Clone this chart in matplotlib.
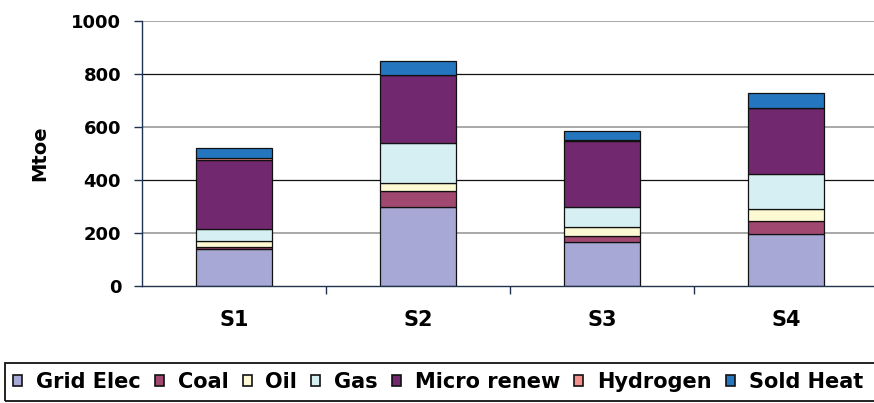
import numpy as np
import matplotlib
matplotlib.use("Agg")
import matplotlib.pyplot as plt
from matplotlib.patches import Rectangle

plt.rcParams['font.family'] = ['DejaVu Sans']

# -----------------------------
# Data (Mtoe)
# -----------------------------
scenarios = ["S1", "S2", "S3", "S4"]
grid_elec = [138, 298, 167, 197]
coal = [8, 60, 23, 47]
oil = [23, 31, 31, 45]
gas = [45, 151, 75, 131]
micro_renew = [259, 253, 252, 249]
hydrogen = [8, 1, 1, 1]
sold_heat = [40, 53, 33, 57]

series_names = ["Grid Elec", "Coal", "Oil", "Gas", "Micro renew", "Hydrogen", "Sold Heat"]
series_vals = [grid_elec, coal, oil, gas, micro_renew, hydrogen, sold_heat]
series_cols = ["#A7A8D5", "#A04870", "#FDF9D2", "#D6EFF2", "#72286E", "#F4908A", "#2476BF"]

y_ticks = [0, 200, 400, 600, 800, 1000]

# -----------------------------
# Plot
# -----------------------------
fig = plt.figure(figsize=(8.74, 4.03), dpi=100)
W, H = 874, 403
ax = fig.add_axes([142 / W, 1 - 286 / H, 736 / W, 265.5 / H])

x = np.arange(len(scenarios))
bottom = np.zeros(len(scenarios))
handles = []
for name, vals, col in zip(series_names, series_vals, series_cols):
    vals = np.array(vals, dtype=float)
    b = ax.bar(x, vals, width=0.41, bottom=bottom, color=col,
               edgecolor="#111111", linewidth=0.9, label=name, zorder=3)
    handles.append(b)
    bottom += vals

ax.set_xlim(-0.5, len(scenarios) - 0.5)
ax.set_ylim(0, 1000)
ax.set_yticks(y_ticks)
ax.set_xticks(x)
ax.set_xticklabels(scenarios, fontsize=15, fontweight="bold")
ax.set_xticks(np.arange(0.5, len(scenarios) - 0.5, 1), minor=True)
ax.tick_params(axis="x", which="major", length=0, pad=17)
ax.tick_params(axis="x", which="minor", length=6, width=1, color="#1F3350")
ax.tick_params(axis="y", length=6, width=1, color="#1F3350", labelsize=13, pad=9)
for lab in ax.get_yticklabels():
    lab.set_fontweight("bold")

# horizontal gridlines (alternating grey / black as in the original)
for i, yv in enumerate(y_ticks[1:]):
    ax.axhline(yv, color="#999999" if i % 2 == 0 else "#111111",
               linewidth=1.2 if i % 2 == 0 else 0.9, zorder=1)

for s in ["top", "right"]:
    ax.spines[s].set_visible(False)
for s in ["left", "bottom"]:
    ax.spines[s].set_color("#1F3350")
    ax.spines[s].set_linewidth(1.0)
    ax.spines[s].set_zorder(4)

ax.set_ylabel("Mtoe", fontsize=14, fontweight="bold", labelpad=16)

# legend with a frame running off the right edge
fig.patches.append(Rectangle((5 / W, 1 - 401 / H), 900 / W, 38 / H,
                             transform=fig.transFigure, fill=False,
                             edgecolor="#111111", linewidth=1.3))
fs = 15
px = fs * 100 / 72
leg = fig.legend(handles=handles, labels=series_names, loc="center left",
                 bbox_to_anchor=(13 / W, 1 - 382 / H), ncol=7, frameon=False,
                 handlelength=9 / px, handleheight=9 / px,
                 handletextpad=14 / px, columnspacing=14 / px,
                 borderpad=0, borderaxespad=0,
                 prop={"weight": "bold", "size": fs})
for h in leg.legend_handles:
    h.set_edgecolor("#111111")
    h.set_linewidth(1.2)

fig.savefig("out.png", dpi=100)
